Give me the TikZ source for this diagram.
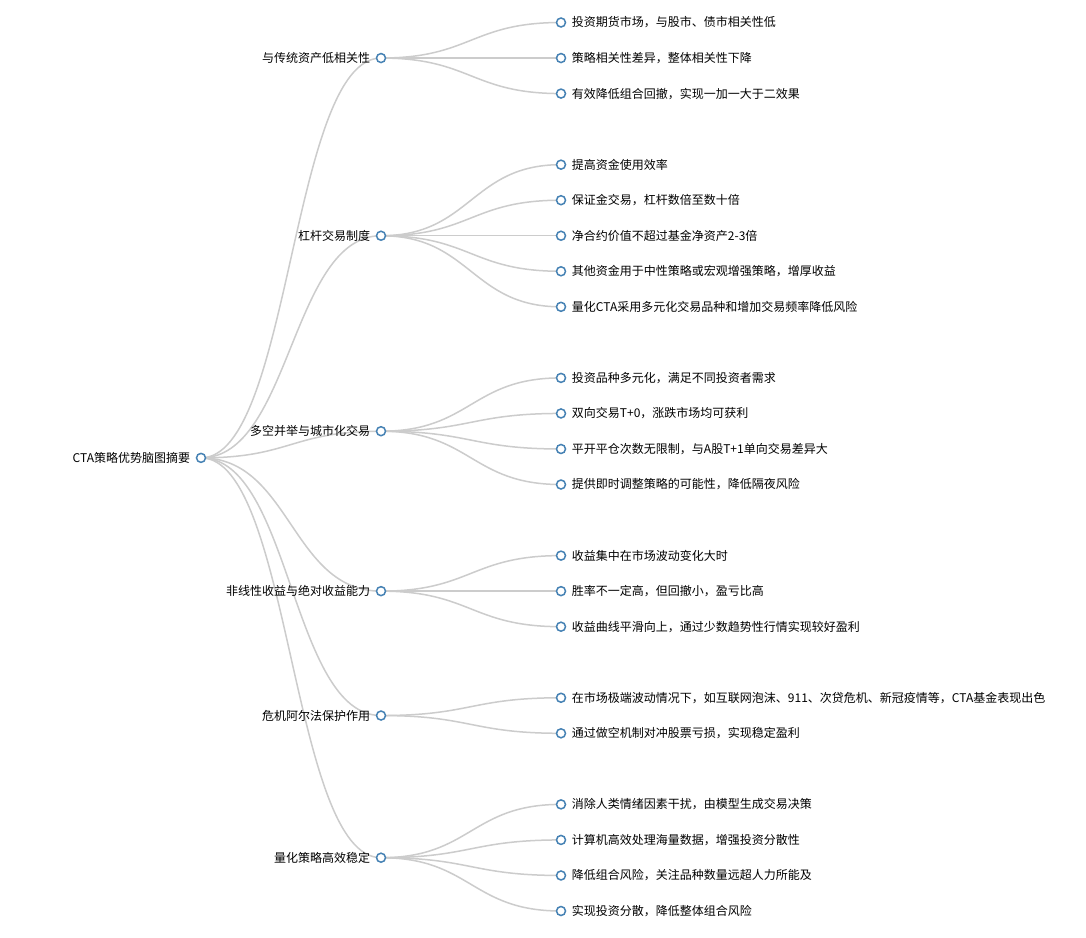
\documentclass[tikz,border=0pt]{standalone}
\usepackage{fontspec}
\newfontfamily\cjk{Noto Sans CJK SC}
\usetikzlibrary{positioning,calc,backgrounds}
\definecolor{steel}{RGB}{70,130,180}
\definecolor{linkgray}{RGB}{204,204,204}

% horizontal link between two dots
\newcommand\branch[2]{%
  \draw[link] let \p1=(#1), \p2=(#2) in
    (\p1) .. controls ({(\x1+\x2)/2},\y1) and ({(\x1+\x2)/2},\y2) .. (\p2);}

\begin{document}
\begin{tikzpicture}[x=1pt,y=-1pt,
    dot/.style={circle,draw=steel,fill=white,line width=1.5pt,minimum size=9pt,inner sep=0pt},
    link/.style={draw=linkgray,line width=1.5pt},
    txt/.style={font=\cjk\fontsize{12}{14}\selectfont,inner sep=0pt},
    ltext/.style={txt,left=5.5pt of #1},
    rtext/.style={txt,right=5.5pt of #1}]

  \useasboundingbox (0,0) rectangle (1086,937);

  % root and first level
  \node[dot] (root) at (201,457.87) {};
  \node[dot] (g1) at (381,58.04) {};
  \node[dot] (g2) at (381,235.74) {};
  \node[dot] (g3) at (381,431.21) {};
  \node[dot] (g4) at (381,591.14) {};
  \node[dot] (g5) at (381,715.53) {};
  \node[dot] (g6) at (381,857.69) {};

  \node[ltext=root] (t-root) {CTA策略优势脑图摘要};
  \node[ltext=g1] (t-g1) {与传统资产低相关性};
  \node[ltext=g2] (t-g2) {杠杆交易制度};
  \node[ltext=g3] (t-g3) {多空并举与城市化交易};
  \node[ltext=g4] (t-g4) {非线性收益与绝对收益能力};
  \node[ltext=g5] (t-g5) {危机阿尔法保护作用};
  \node[ltext=g6] (t-g6) {量化策略高效稳定};

  % leaves
  \node[dot] (g1a) at (561,22.5) {};
  \node[dot] (g1b) at (561,58.04) {};
  \node[dot] (g1c) at (561,93.58) {};
  \node[dot] (g2a) at (561,164.66) {};
  \node[dot] (g2b) at (561,200.2) {};
  \node[dot] (g2c) at (561,235.74) {};
  \node[dot] (g2d) at (561,271.28) {};
  \node[dot] (g2e) at (561,306.82) {};
  \node[dot] (g3a) at (561,377.9) {};
  \node[dot] (g3b) at (561,413.44) {};
  \node[dot] (g3c) at (561,448.98) {};
  \node[dot] (g3d) at (561,484.52) {};
  \node[dot] (g4a) at (561,555.6) {};
  \node[dot] (g4b) at (561,591.14) {};
  \node[dot] (g4c) at (561,626.68) {};
  \node[dot] (g5a) at (561,697.76) {};
  \node[dot] (g5b) at (561,733.3) {};
  \node[dot] (g6a) at (561,804.38) {};
  \node[dot] (g6b) at (561,839.92) {};
  \node[dot] (g6c) at (561,875.46) {};
  \node[dot] (g6d) at (561,911) {};

  \node[rtext=g1a] (t-g1a) {投资期货市场，与股市、债市相关性低};
  \node[rtext=g1b] (t-g1b) {策略相关性差异，整体相关性下降};
  \node[rtext=g1c] (t-g1c) {有效降低组合回撤，实现一加一大于二效果};
  \node[rtext=g2a] (t-g2a) {提高资金使用效率};
  \node[rtext=g2b] (t-g2b) {保证金交易，杠杆数倍至数十倍};
  \node[rtext=g2c] (t-g2c) {净合约价值不超过基金净资产2-3倍};
  \node[rtext=g2d] (t-g2d) {其他资金用于中性策略或宏观增强策略，增厚收益};
  \node[rtext=g2e] (t-g2e) {量化CTA采用多元化交易品种和增加交易频率降低风险};
  \node[rtext=g3a] (t-g3a) {投资品种多元化，满足不同投资者需求};
  \node[rtext=g3b] (t-g3b) {双向交易T+0，涨跌市场均可获利};
  \node[rtext=g3c] (t-g3c) {平开平仓次数无限制，与A股T+1单向交易差异大};
  \node[rtext=g3d] (t-g3d) {提供即时调整策略的可能性，降低隔夜风险};
  \node[rtext=g4a] (t-g4a) {收益集中在市场波动变化大时};
  \node[rtext=g4b] (t-g4b) {胜率不一定高，但回撤小，盈亏比高};
  \node[rtext=g4c] (t-g4c) {收益曲线平滑向上，通过少数趋势性行情实现较好盈利};
  \node[rtext=g5a] (t-g5a) {在市场极端波动情况下，如互联网泡沫、911、次贷危机、新冠疫情等，CTA基金表现出色};
  \node[rtext=g5b] (t-g5b) {通过做空机制对冲股票亏损，实现稳定盈利};
  \node[rtext=g6a] (t-g6a) {消除人类情绪因素干扰，由模型生成交易决策};
  \node[rtext=g6b] (t-g6b) {计算机高效处理海量数据，增强投资分散性};
  \node[rtext=g6c] (t-g6c) {降低组合风险，关注品种数量远超人力所能及};
  \node[rtext=g6d] (t-g6d) {实现投资分散，降低整体组合风险};

  % links behind the dots
  \begin{scope}[on background layer]
    \fill[white] (0,0) rectangle (1086,937);
    \foreach \c in {g1,g2,g3,g4,g5,g6} \branch{root}{\c};
    \foreach \c in {g1a,g1b,g1c} \branch{g1}{\c};
    \foreach \c in {g2a,g2b,g2c,g2d,g2e} \branch{g2}{\c};
    \foreach \c in {g3a,g3b,g3c,g3d} \branch{g3}{\c};
    \foreach \c in {g4a,g4b,g4c} \branch{g4}{\c};
    \foreach \c in {g5a,g5b} \branch{g5}{\c};
    \foreach \c in {g6a,g6b,g6c,g6d} \branch{g6}{\c};
  \end{scope}
\end{tikzpicture}
\end{document}
